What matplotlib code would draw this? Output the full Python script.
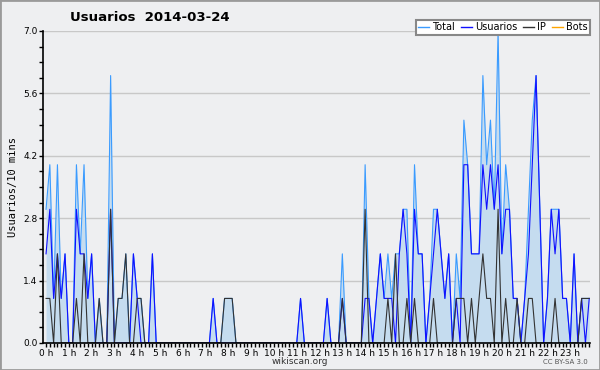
import matplotlib
matplotlib.use('Agg')
from matplotlib import pyplot as plt
from matplotlib.patches import Rectangle
from matplotlib.lines import Line2D
import numpy as np

# 10-minute slots, 0h00 .. 23h50
hours = [f'{h} h' for h in range(24)]

usuarios = [2, 3, 1, 2, 1, 2, 0, 0, 3, 2, 2, 1, 2, 0, 0, 0, 0, 3, 0, 0,
            0, 0, 0, 2, 1, 0, 0, 0, 2, 0, 0, 0, 0, 0, 0, 0, 0, 0, 0, 0,
            0, 0, 0, 0, 1, 0, 0, 0, 0, 0, 0, 0, 0, 0, 0, 0, 0, 0, 0, 0,
            0, 0, 0, 0, 0, 0, 0, 1, 0, 0, 0, 0, 0, 0, 1, 0, 0, 0, 1, 0,
            0, 0, 0, 0, 1, 1, 0, 1, 2, 1, 1, 1, 0, 2, 3, 2, 0, 3, 2, 2,
            0, 1, 2, 3, 2, 1, 2, 0, 1, 0, 4, 4, 2, 2, 2, 4, 3, 4, 3, 4,
            2, 3, 3, 1, 1, 0, 1, 2, 4, 6, 3, 0, 1, 3, 2, 3, 1, 1, 0, 2,
            0, 1, 0, 1]

ip = [1, 1, 0, 2, 0, 0, 0, 0, 1, 0, 2, 0, 0, 0, 1, 0, 0, 3, 0, 1,
      1, 2, 0, 0, 1, 1, 0, 0, 0, 0, 0, 0, 0, 0, 0, 0, 0, 0, 0, 0,
      0, 0, 0, 0, 0, 0, 0, 1, 1, 1, 0, 0, 0, 0, 0, 0, 0, 0, 0, 0,
      0, 0, 0, 0, 0, 0, 0, 0, 0, 0, 0, 0, 0, 0, 0, 0, 0, 0, 1, 0,
      0, 0, 0, 0, 3, 0, 0, 0, 0, 0, 1, 0, 2, 0, 0, 1, 0, 1, 0, 0,
      0, 0, 1, 0, 0, 0, 0, 0, 1, 1, 1, 0, 1, 0, 1, 2, 1, 1, 0, 3,
      0, 1, 0, 0, 1, 0, 0, 1, 1, 0, 0, 0, 0, 0, 1, 0, 0, 0, 0, 0,
      0, 1, 1, 1]

total = [3, 4, 1, 4, 1, 2, 0, 0, 4, 2, 4, 1, 2, 0, 1, 0, 0, 6, 0, 1,
         1, 2, 0, 2, 1, 1, 0, 0, 2, 0, 0, 0, 0, 0, 0, 0, 0, 0, 0, 0,
         0, 0, 0, 0, 1, 0, 0, 1, 1, 1, 0, 0, 0, 0, 0, 0, 0, 0, 0, 0,
         0, 0, 0, 0, 0, 0, 0, 1, 0, 0, 0, 0, 0, 0, 1, 0, 0, 0, 2, 0,
         0, 0, 0, 0, 4, 1, 0, 1, 2, 1, 2, 1, 2, 2, 3, 3, 0, 4, 2, 2,
         0, 1, 3, 3, 2, 1, 2, 0, 2, 1, 5, 4, 2, 2, 2, 6, 4, 5, 3, 7,
         2, 4, 3, 1, 1, 0, 1, 3, 5, 6, 3, 0, 1, 3, 3, 3, 1, 1, 0, 2,
         0, 1, 1, 1]

bots = [0] * 144

bg = '#eeeff1'
fig = plt.figure(figsize=(6, 3.7), dpi=100, facecolor=bg)
fig.patches.append(Rectangle((0, 0), 1, 1, transform=fig.transFigure,
                             fill=False, edgecolor='#9a9a9a', linewidth=2))
ax = fig.add_axes([43 / 600, 1 - 343 / 370, 547 / 600, 312 / 370])
ax.set_facecolor(bg)

x = np.arange(len(total))
ax.fill_between(x, total, color='#c5dcef', linewidth=0, zorder=2)
ax.plot(x, total, color='#3a9bff', linewidth=0.8, zorder=3)
ax.plot(x, usuarios, color='#1010ff', linewidth=0.8, zorder=4)
ax.plot(x, ip, color='#333333', linewidth=0.8, zorder=5)

ax.set_xlim(-0.8, 143.2)
ax.set_ylim(0, 7.0)
yt = [0.0, 1.4, 2.8, 4.2, 5.6, 7.0]
ax.set_yticks(yt)
ax.set_yticklabels([f'{v:.1f}' for v in yt])
ax.set_yticks(np.arange(0, 7.01, 0.35), minor=True)
ax.set_xticks(np.arange(0, 144, 6))
ax.set_xticklabels(hours)
ax.set_xticks(np.arange(0, 144), minor=True)
ax.grid(axis='y', color='#c8c8c8', linewidth=1.0, zorder=0)
ax.set_axisbelow(True)

for s in ['top', 'right']:
    ax.spines[s].set_visible(False)
for s in ['left', 'bottom']:
    ax.spines[s].set_linewidth(1.2)
    ax.spines[s].set_zorder(6)
ax.tick_params(axis='both', which='major', labelsize=6.5, length=3, width=1,
               pad=1, colors='black')
ax.tick_params(axis='both', which='minor', length=3, width=1)

ax.set_ylabel('Usuarios/10 mins', family='DejaVu Sans Mono', fontsize=7.5,
              labelpad=4)
ax.set_title('Usuarios  2014-03-24', fontsize=9.5, fontweight='bold',
             x=(150 - 43) / 547, ha='center', pad=7)
fig.text(300 / 600, 1 - 362 / 370, 'wikiscan.org', ha='center', va='center',
         fontsize=6.5, color='#333333')
fig.text(565 / 600, 1 - 362 / 370, 'CC BY-SA 3.0', ha='center', va='center',
         fontsize=5, color='#555555')

handles = [Line2D([], [], color='#3a9bff', lw=1),
           Line2D([], [], color='#1010ff', lw=1),
           Line2D([], [], color='#333333', lw=1),
           Line2D([], [], color='#ffa500', lw=1)]
leg = fig.legend(handles, ['Total', 'Usuarios', 'IP', 'Bots'], ncol=4,
                 loc='upper right', bbox_to_anchor=(595 / 600, 1 - 15 / 370),
                 fontsize=7, frameon=True, fancybox=False, shadow=False,
                 handlelength=1.1, handletextpad=0.35, columnspacing=0.6,
                 borderpad=0.25, framealpha=1)
leg.get_frame().set_edgecolor('#888888')
leg.get_frame().set_linewidth(1.5)

fig.savefig('out.png', dpi=100, facecolor=bg)
